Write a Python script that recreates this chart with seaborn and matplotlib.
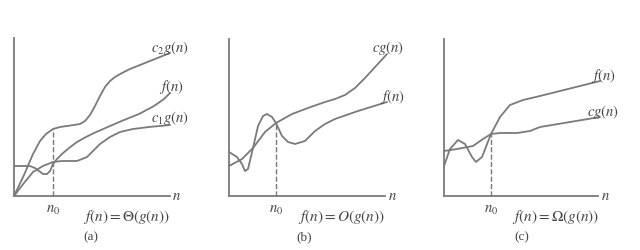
import matplotlib
matplotlib.use("Agg")
import matplotlib.pyplot as plt
import seaborn as sns

sns.set_style("white")
plt.rcParams['mathtext.fontset'] = 'stix'
plt.rcParams['font.family'] = ['Liberation Serif', 'DejaVu Serif']

# ---- data (units: pixel offsets from axes origin) ----
a_c2_x = [0, 10, 19, 26, 32, 39, 46, 53, 60, 66, 71, 76, 81, 86, 91, 96, 101, 108, 116, 126, 136, 146, 156]
a_c2_y = [0, 21, 42, 55, 62, 67, 69, 70, 71, 72, 75, 81, 90, 100, 109, 115, 119, 123, 127, 131, 135, 139, 143]
a_f_x = [0, 10, 16, 21, 25, 29, 33, 36, 39, 43, 48, 55, 63, 72, 80, 96, 110, 125, 140, 150, 156]
a_f_y = [30, 30, 30, 28, 25, 22, 22, 25, 32, 37, 42, 48, 54, 59, 63, 70, 76, 82, 90, 97, 103]
a_c1_x = [0, 10, 19, 29, 39, 48, 56, 63, 68, 73, 79, 86, 96, 106, 119, 135, 156]
a_c1_y = [0, 13, 24, 30, 34, 35, 35, 35, 37, 39, 45, 52, 59, 64, 67, 69, 71]
a_n0, a_n0_top = 39, 67

b_cg_x = [0, 13, 24, 36, 47, 63, 79, 96, 106, 116, 126, 136, 147, 158]
b_cg_y = [30, 37, 48, 64, 73, 82, 88, 94, 97, 101, 108, 118, 130, 142]
b_f_x = [0, 8, 13, 16, 19, 24, 29, 34, 38, 43, 47, 53, 59, 66, 76, 86, 96, 106, 129, 158]
b_f_y = [44, 39, 32, 25, 27, 48, 70, 80, 82, 79, 73, 60, 54, 52, 55, 65, 72, 77, 85, 94]
b_n0, b_n0_top = 47, 73

c_f_x = [0, 6, 14, 21, 28, 32, 38, 47, 56, 66, 79, 96, 124, 156]
c_f_y = [30, 47, 56, 52, 39, 34, 39, 62, 79, 91, 96, 100, 107, 115]
c_cg_x = [0, 13, 29, 39, 47, 56, 73, 86, 96, 114, 138, 156]
c_cg_y = [45, 47, 50, 57, 62, 63, 63, 65, 69, 72, 76, 79]
c_n0, c_n0_top = 47, 62

formulas = [r'$f(n)=\Theta(g(n))$', r'$f(n)=O(g(n))$', r'$f(n)=\Omega(g(n))$']
captions = ['(a)', '(b)', '(c)']

W, H = 640, 251
fig = plt.figure(figsize=(6.4, 2.51), dpi=100)
col = '#7a7a7a'

def mk_ax(l, r, t, b):
    ax = fig.add_axes([l / W, 1 - b / H, (r - l) / W, (b - t) / H])
    ax.set_xlim(0, r - l)
    ax.set_ylim(0, b - t)
    for s in ['top', 'right']:
        ax.spines[s].set_visible(False)
    for s in ['left', 'bottom']:
        ax.spines[s].set_color(col)
        ax.spines[s].set_linewidth(1.3)
    ax.set_xticks([]); ax.set_yticks([])
    ax.set_facecolor('none')
    return ax

def curve(ax, x, y, dashed=False):
    sns.lineplot(x=x, y=y, ax=ax, color=col, lw=1.0 if dashed else 1.3,
                 linestyle='--' if dashed else '-', estimator=None, sort=False,
                 clip_on=False)

def ftext(px, py, s, size=10.5, ha='center'):
    fig.text(px / W, 1 - py / H, s, ha=ha, va='center', fontsize=size, color='#444444')

panels = [
    (14, 170, 39, 197, [(a_c2_x, a_c2_y), (a_f_x, a_f_y), (a_c1_x, a_c1_y)], a_n0, a_n0_top,
     [(170, 48, r'$c_2g(n)$'), (171, 87, r'$f(n)$'), (170, 118, r'$c_1g(n)$')], 176, 53, 126, 91),
    (229, 385, 40, 197, [(b_cg_x, b_cg_y), (b_f_x, b_f_y)], b_n0, b_n0_top,
     [(388, 48, r'$cg(n)$'), (392, 97, r'$f(n)$')], 392, 276, 341, 304),
    (444, 598, 40, 197, [(c_f_x, c_f_y), (c_cg_x, c_cg_y)], c_n0, c_n0_top,
     [(603, 76, r'$f(n)$'), (603, 112, r'$cg(n)$')], 605, 491, 556, 522),
]

for i, (l, r, t, b, curves, n0, n0top, labels, nx, n0x, fx, cx) in enumerate(panels):
    ax = mk_ax(l, r, t, b)
    for x, y in curves:
        curve(ax, x, y)
    curve(ax, [n0, n0], [0, n0top], dashed=True)
    ax.set_xlabel(''); ax.set_ylabel('')
    for px, py, s in labels:
        ftext(px, py, s)
    ftext(nx, 197, r'$n$')
    ftext(n0x, 210, r'$n_0$')
    ftext(fx, 217, formulas[i], size=11)
    ftext(cx, 237, captions[i], size=9.5)

fig.savefig('out.png', dpi=100, facecolor='white')
